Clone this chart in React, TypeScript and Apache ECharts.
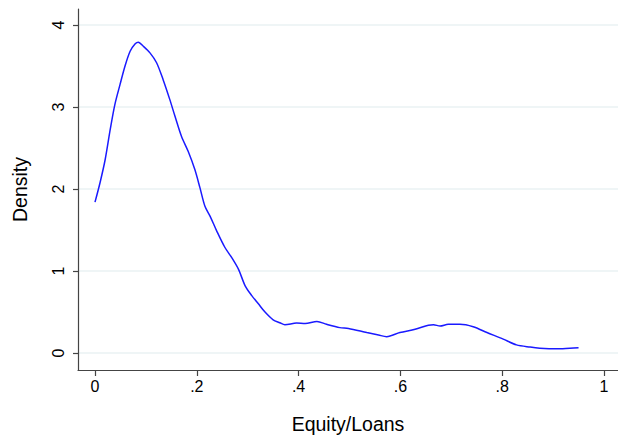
import React, { useEffect, useRef } from 'react';
import * as echarts from 'echarts';

// kernel density estimate
const equityLoans = [
  0.0, 0.01, 0.02, 0.03, 0.039, 0.049, 0.059, 0.069, 0.079, 0.085, 0.095, 0.108,
  0.121, 0.134, 0.147, 0.157, 0.17, 0.183, 0.196, 0.206, 0.216, 0.226, 0.239,
  0.255, 0.269, 0.282, 0.295, 0.308, 0.321, 0.334, 0.35, 0.363, 0.373, 0.396,
  0.413, 0.436, 0.455, 0.481, 0.498, 0.534, 0.557, 0.573, 0.599, 0.629, 0.655,
  0.665, 0.678, 0.694, 0.717, 0.743, 0.77, 0.802, 0.828, 0.855, 0.874, 0.907,
  0.933, 0.95,
];
const density = [
  1.84, 2.08, 2.36, 2.73, 3.03, 3.27, 3.5, 3.68, 3.77, 3.79, 3.74, 3.66, 3.54,
  3.33, 3.09, 2.89, 2.64, 2.46, 2.24, 2.02, 1.79, 1.67, 1.49, 1.29, 1.16, 1.02,
  0.82, 0.7, 0.6, 0.5, 0.405, 0.37, 0.345, 0.365, 0.36, 0.385, 0.35, 0.31, 0.3,
  0.25, 0.22, 0.2, 0.25, 0.29, 0.34, 0.345, 0.33, 0.35, 0.35, 0.32, 0.25, 0.17,
  0.1, 0.073, 0.06, 0.052, 0.06, 0.065,
];
const xTicks = [0, 0.2, 0.4, 0.6, 0.8, 1];
const yTicks = [0, 1, 2, 3, 4];

const FONT = '"Liberation Sans", Arial, sans-serif';

const fmtX = (v: number) => {
  if (v === 0) return '0';
  if (v === 1) return '1';
  return '.' + Math.round(v * 10);
};

const App: React.FC = () => {
  const chartRef = useRef<HTMLDivElement>(null);

  useEffect(() => {
    if (!chartRef.current) return;
    const chart = echarts.init(chartRef.current, null, { renderer: 'svg' });

    const option: echarts.EChartsOption = {
      animation: false,
      backgroundColor: '#ffffff',
      grid: { left: 78, right: 0, top: 9, bottom: 68 },
      xAxis: {
        type: 'value',
        min: -0.0334,
        max: 1.0275,
        name: 'Equity/Loans',
        nameLocation: 'middle',
        nameGap: 44,
        nameTextStyle: { color: '#000', fontSize: 19.5, fontFamily: FONT },
        axisLine: { onZero: false, lineStyle: { color: '#444', width: 1.2 } },
        axisTick: {
          customValues: xTicks,
          length: 6,
          lineStyle: { color: '#444', width: 1.2 },
        },
        axisLabel: {
          customValues: xTicks,
          formatter: fmtX,
          margin: 8,
          color: '#000',
          fontSize: 16,
          fontFamily: FONT,
        },
        splitLine: { show: false },
      },
      yAxis: {
        type: 'value',
        min: -0.2067,
        max: 4.195,
        name: 'Density',
        nameLocation: 'middle',
        nameGap: 48,
        nameTextStyle: { color: '#000', fontSize: 19.5, fontFamily: FONT },
        axisLine: { show: true, onZero: false, lineStyle: { color: '#444', width: 1.2 } },
        axisTick: {
          show: true,
          customValues: yTicks,
          length: 5,
          lineStyle: { color: '#444', width: 1.2 },
        },
        axisLabel: {
          customValues: yTicks,
          rotate: 90,
          margin: 12,
          color: '#000',
          fontSize: 16,
          fontFamily: FONT,
        },
        splitLine: { show: true, lineStyle: { color: '#eaf2f3', width: 1.5 } },
      },
      series: [
        {
          type: 'line',
          data: equityLoans.map((x, i) => [x, density[i]]),
          smooth: 0.3,
          showSymbol: false,
          lineStyle: { color: '#1a1aff', width: 1.5 },
        },
      ],
    };

    chart.setOption(option);
    return () => chart.dispose();
  }, []);

  return (
    <div
      ref={chartRef}
      style={{ position: 'fixed', left: 0, top: 0, width: 618, height: 439 }}
    />
  );
};

export default App;
